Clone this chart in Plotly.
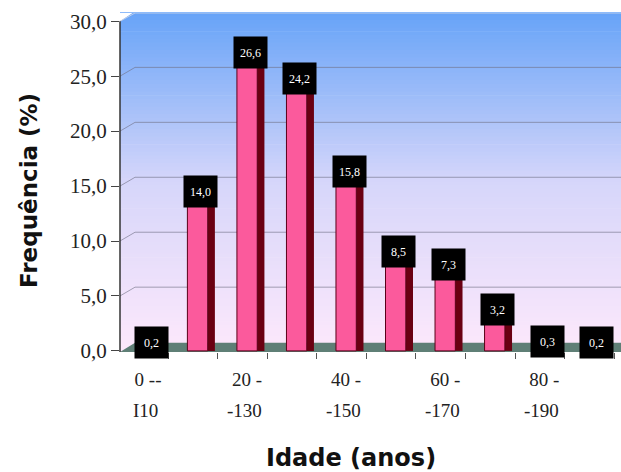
import plotly.graph_objects as go

# ---- data ----
categories = ["0 - 10", "10 - 20", "20 - 30", "30 - 40", "40 - 50",
              "50 - 60", "60 - 70", "70 - 80", "80 - 90", "90 - 100"]
frequencia = [0.2, 14.0, 26.6, 24.2, 15.8, 8.5, 7.3, 3.2, 0.3, 0.2]
tick_positions = [0, 2, 4, 6, 8]
tick_labels_top = ["0 --", "20 -", "40 -", "60 -", "80 -"]
tick_labels_bottom = ["I10", "-130", "-150", "-170", "-190"]
y_ticks = [0, 5, 10, 15, 20, 25, 30]

x = list(range(len(categories)))

fig = go.Figure()

# dark side of the bars (3D look)
fig.add_trace(go.Bar(
    x=x, y=frequencia, width=0.15, offset=0.2,
    marker=dict(color="#6a0012", line=dict(width=0)),
    hoverinfo="skip", showlegend=False,
))
# pink front faces
fig.add_trace(go.Bar(
    x=x, y=frequencia, width=0.41, offset=-0.205,
    marker=dict(color="#fb5a9c", line=dict(color="#5a0018", width=1)),
    hovertext=categories, showlegend=False,
))

shapes = []
# gradient background (blue top -> pink bottom)
top = (104, 164, 248)
mid = (214, 214, 250)
bot = (253, 232, 251)
n = 90
for k in range(n):
    t = k / (n - 1)
    if t < 0.5:
        u = t / 0.5
        c = tuple(round(top[j] + (mid[j] - top[j]) * u) for j in range(3))
    else:
        u = (t - 0.5) / 0.5
        c = tuple(round(mid[j] + (bot[j] - mid[j]) * u) for j in range(3))
    shapes.append(dict(type="rect", xref="paper", yref="paper",
                       x0=0, x1=1.02, y0=1 - (k + 1) / n, y1=1 - k / n + 0.002,
                       fillcolor="rgb(%d,%d,%d)" % c, line=dict(width=0), layer="below"))
# white corner at top left (3D wall)
shapes.append(dict(type="path", xref="paper", yref="y",
                   path="M 0,30.9 L 0,30 L 0.03,30.9 Z",
                   fillcolor="white", line=dict(width=0), layer="below"))
# back-wall gridlines with slanted left part
for v in y_ticks[1:-1]:
    shapes.append(dict(type="path", xref="paper", yref="y",
                       path="M 0,%g L 0.03,%g L 1.02,%g" % (v, v + 0.8, v + 0.8),
                       line=dict(color="rgba(110,110,130,0.6)", width=1), layer="below"))
shapes.append(dict(type="path", xref="paper", yref="y",
                   path="M 0,30 L 0.03,30.75 L 1.02,30.75",
                   line=dict(color="rgba(200,210,230,0.9)", width=1), layer="below"))
# floor
shapes.append(dict(type="path", xref="paper", yref="y",
                   path="M 0,-0.1 L 0.03,0.75 L 1.02,0.75 L 1.0,-0.1 Z",
                   fillcolor="#5f7f76", line=dict(width=0), layer="below"))
# y axis line
shapes.append(dict(type="line", xref="paper", yref="y", x0=0, x1=0, y0=-0.1, y1=30,
                   line=dict(color="#333333", width=1.5)))

annotations = []
for xi, v in zip(x, frequencia):
    annotations.append(dict(
        x=xi + 0.06, y=v, xref="x", yref="y", yshift=6,
        text=("%.1f" % v).replace(".", ","), showarrow=False,
        bgcolor="black", width=31, height=29,
        font=dict(family="Liberation Serif", size=12, color="white"),
    ))
# second line of the x tick labels
for xp, lab in zip(tick_positions, tick_labels_bottom):
    annotations.append(dict(
        x=xp - 0.05, y=0, xref="x", yref="paper", yshift=-58, yanchor="middle",
        text=lab, showarrow=False,
        font=dict(family="Liberation Serif", size=19, color="#222"),
    ))
# axis titles
annotations.append(dict(
    x=0.461, y=0, xref="paper", yref="paper", yshift=-106, yanchor="middle",
    text="<b>Idade (anos)</b>", showarrow=False,
    font=dict(family="DejaVu Sans", size=24, color="#111"),
))
annotations.append(dict(
    x=0, y=0.475, xref="paper", yref="paper", xshift=-91, xanchor="center",
    yanchor="middle", textangle=-90,
    text="<b>Frequência (%)</b>", showarrow=False,
    font=dict(family="DejaVu Sans", size=23, color="#111"),
))

fig.update_layout(
    width=621, height=472,
    margin=dict(l=120, r=0, t=13, b=120),
    paper_bgcolor="white", plot_bgcolor="rgba(0,0,0,0)",
    barmode="overlay",
    separators=",.",
    shapes=shapes, annotations=annotations,
    xaxis=dict(
        range=[-0.566, 9.55], showgrid=False, zeroline=False,
        tickmode="array", tickvals=tick_positions, ticktext=tick_labels_top,
        ticks="", ticklabelstandoff=14,
        tickfont=dict(family="Liberation Serif", size=19, color="#222"),
        minor=dict(tickmode="array", tickvals=[i + 0.41 for i in range(-1, 10)],
                   ticks="outside", ticklen=6, tickcolor="#555"),
    ),
    yaxis=dict(
        range=[-0.1, 30.75], showgrid=False, zeroline=False,
        tickmode="array", tickvals=y_ticks, tickformat=".1f",
        ticks="outside", ticklen=8, tickcolor="#444",
        tickfont=dict(family="Liberation Serif", size=21, color="#222"),
    ),
)

fig.write_html(
    "out.html",
    config={"displayModeBar": False},
    post_script="document.body.style.margin='0';document.body.style.overflow='hidden';"
                "document.documentElement.style.overflow='hidden';",
)
